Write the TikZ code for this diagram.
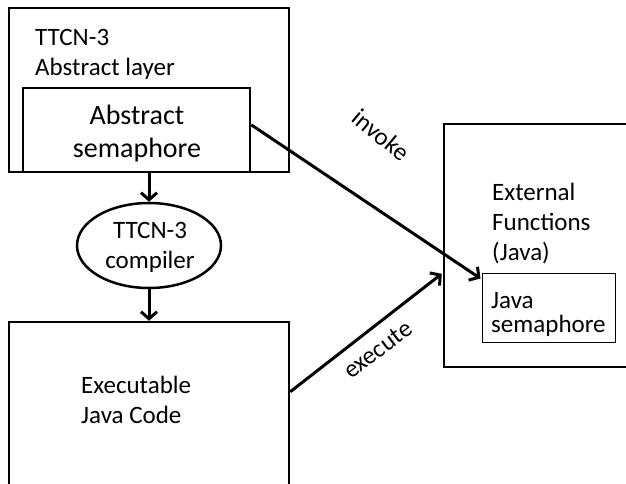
\documentclass[tikz,border=0pt]{standalone}
\usepackage{fontspec}
\setmainfont{Carlito}
\usetikzlibrary{arrows.meta,shapes.geometric,calc}
\begin{document}
\begin{tikzpicture}[x=1pt,y=-1pt,
  frame/.style={draw,line width=2.5pt,rectangle,inner sep=0pt},
  thinframe/.style={draw,line width=1pt,rectangle,inner sep=0pt},
  lbl/.style={font=\fontsize{25}{30}\selectfont,align=left,inner sep=0pt},
  flow/.style={line width=3pt,-{Straight Barb[length=7pt,width=16pt]}}
]
\clip (0,0) rectangle (626,483);
\fill[white] (0,0) rectangle (626,483);

% TTCN-3 abstract layer with the abstract semaphore inside
\node[frame,minimum width=280pt,minimum height=164pt] (layer) at (149,90) {};
\node[frame,minimum width=227pt,minimum height=84pt] (abssem) at (136.5,130) {};
\node[lbl,anchor=base west] (layertxt) at (35,75) {TTCN-3\\Abstract layer};
\node[lbl,align=center,font=\fontsize{28}{33}\selectfont,anchor=base] (abstxt) at (137,157) {Abstract\\semaphore};

% compiler
\node[draw,ellipse,line width=2.5pt,minimum width=144pt,minimum height=85pt,inner sep=0pt] (compiler) at (149,245.5) {};
\node[lbl,align=center,anchor=base] (comptxt) at (150,268) {TTCN-3\\compiler};

% executable code box (open at the bottom edge)
\node[frame,minimum width=280pt,minimum height=190pt] (exec) at (149,417) {};
\node[lbl,anchor=base west] (exectxt) at (81,423) {Executable\\Java Code};

% external functions box (open at the right edge)
\node[frame,minimum width=220pt,minimum height=243pt] (ext) at (554,245.5) {};
\node[lbl,anchor=base west] (exttxt) at (492,260) {External\\Functions\\(Java)};
\node[thinframe,fill=white,minimum width=133pt,minimum height=69pt] (javasem) at (548.5,307.5) {};
\node[lbl,font=\fontsize{25}{24}\selectfont,anchor=base west] (javatxt) at (491,332) {Java\\semaphore};

% connectors
\draw[flow] (compiler.north |- abssem.south) -- (compiler.north);
\draw[flow] (compiler.south) -- (compiler.south |- exec.north);
\coordinate (invstart) at ($(abssem.north east)!0.44!(abssem.south east)$);
\coordinate (invend) at ($(javasem.north west)+(-1,6)$);
\draw[flow] (invstart) -- (invend);
\coordinate (exstart) at ($(exec.north east)+(0,71)$);
\coordinate (exend) at ($(ext.north west)+(-1,151)$);
\draw[flow] (exstart) -- (exend);

\node[lbl,rotate=-40] (invlbl) at (381,135) {invoke};
\node[lbl,rotate=37] (exlbl) at (378,350) {execute};
\end{tikzpicture}
\end{document}
